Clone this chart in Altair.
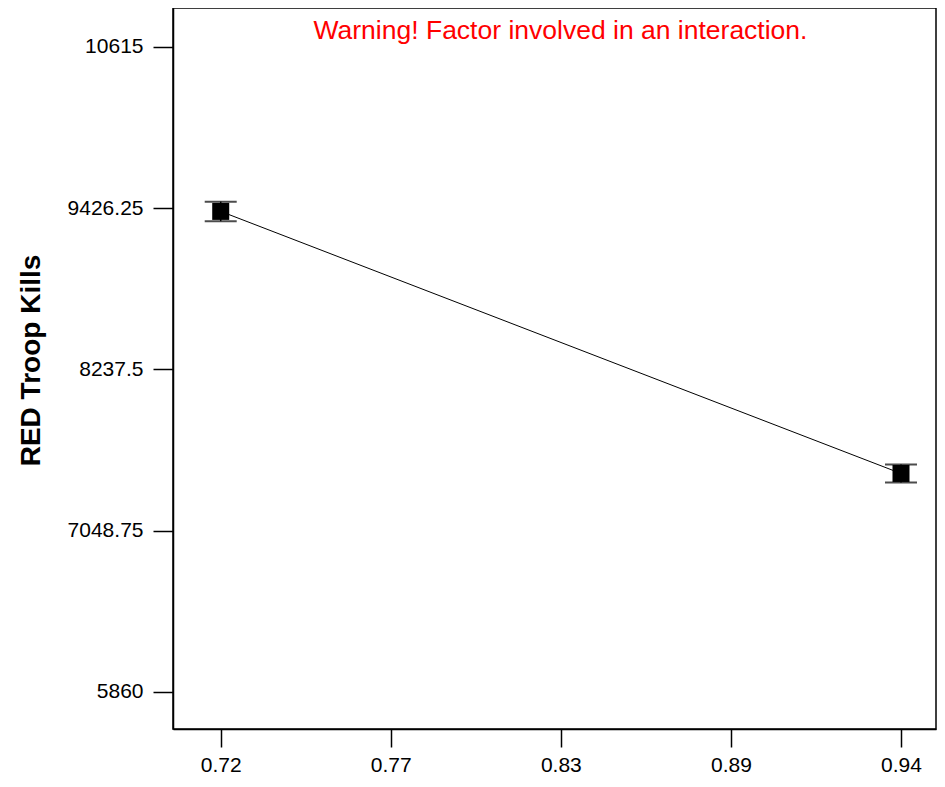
import altair as alt
import pandas as pd

# Data
x_levels = [0.72, 0.94]
means = [9403, 7471]
half_ci = [72, 67]

y_ticks = [5860, 7048.75, 8237.5, 9426.25, 10615]
x_ticks = [0.72, 0.775, 0.83, 0.885, 0.94]
x_tick_labels = ["0.72", "0.77", "0.83", "0.89", "0.94"]

warning_text = "Warning! Factor involved in an interaction."
y_title = "RED Troop Kills"

df = pd.DataFrame({
    "x": x_levels,
    "y": means,
    "lo": [m - h for m, h in zip(means, half_ci)],
    "hi": [m + h for m, h in zip(means, half_ci)],
})

W, H = 763, 721
FONT = "Liberation Sans"

label_map = "{" + ",".join(f"'{v}':'{l}'" for v, l in zip(x_ticks, x_tick_labels)) + "}"

x_scale = alt.Scale(domain=[0.70457, 0.95132], nice=False, zero=False)
y_scale = alt.Scale(domain=[5587.2, 10902.5], nice=False, zero=False)

x_axis = alt.Axis(
    values=x_ticks, title=None, grid=False,
    labelExpr=f"{label_map}[datum.value] || datum.label",
    tickSize=18, tickWidth=1.5, tickColor="black",
    domainColor="black", domainWidth=1.5,
    labelFontSize=21, labelFont=FONT, labelColor="black", labelPadding=7,
)
y_axis = alt.Axis(
    values=y_ticks, title=y_title, grid=False,
    labelExpr="datum.value == 5860 || datum.value == 10615 ? format(datum.value, 'd') : format(datum.value, '')",
    tickSize=20, tickWidth=1.5, tickColor="black",
    domainColor="black", domainWidth=1.5,
    labelFontSize=21, labelFont=FONT, labelColor="black", labelPadding=10,
    titleFontSize=28, titleFont=FONT, titleFontWeight="bold", titleColor="black",
    titleAngle=270, titleAlign="center", titleBaseline="middle",
    titleX=-142, titleY=352,
)

base = alt.Chart(df)

line = base.mark_line(color="black", strokeWidth=1).encode(
    x=alt.X("x:Q", scale=x_scale, axis=x_axis),
    y=alt.Y("y:Q", scale=y_scale, axis=y_axis),
)
rules = base.mark_rule(color="black", strokeWidth=1.5).encode(
    x=alt.X("x:Q", scale=x_scale), y=alt.Y("lo:Q", scale=y_scale), y2="hi:Q"
)
cap_lo = base.mark_tick(color="black", orient="horizontal", size=32, thickness=2).encode(
    x=alt.X("x:Q", scale=x_scale), y=alt.Y("lo:Q", scale=y_scale)
)
cap_hi = base.mark_tick(color="black", orient="horizontal", size=32, thickness=2).encode(
    x=alt.X("x:Q", scale=x_scale), y=alt.Y("hi:Q", scale=y_scale)
)
points = base.mark_square(color="black", size=289, opacity=1, filled=True).encode(
    x=alt.X("x:Q", scale=x_scale), y=alt.Y("y:Q", scale=y_scale)
)
warn = alt.Chart(pd.DataFrame({"t": [warning_text]})).mark_text(
    color="#FF0000", fontSize=26.5, font=FONT, align="center", baseline="middle"
).encode(x=alt.value(387.5), y=alt.value(23), text="t:N")

chart = alt.layer(line, rules, cap_lo, cap_hi, points, warn).properties(
    width=W, height=H,
    autosize=alt.AutoSizeParams(type="none"),
    padding={"left": 165, "top": 0, "right": 1, "bottom": 46},
    background="white",
).configure_view(stroke="black", strokeWidth=1.5)

chart.save("out.html", embed_options={"renderer": "svg", "actions": False})
